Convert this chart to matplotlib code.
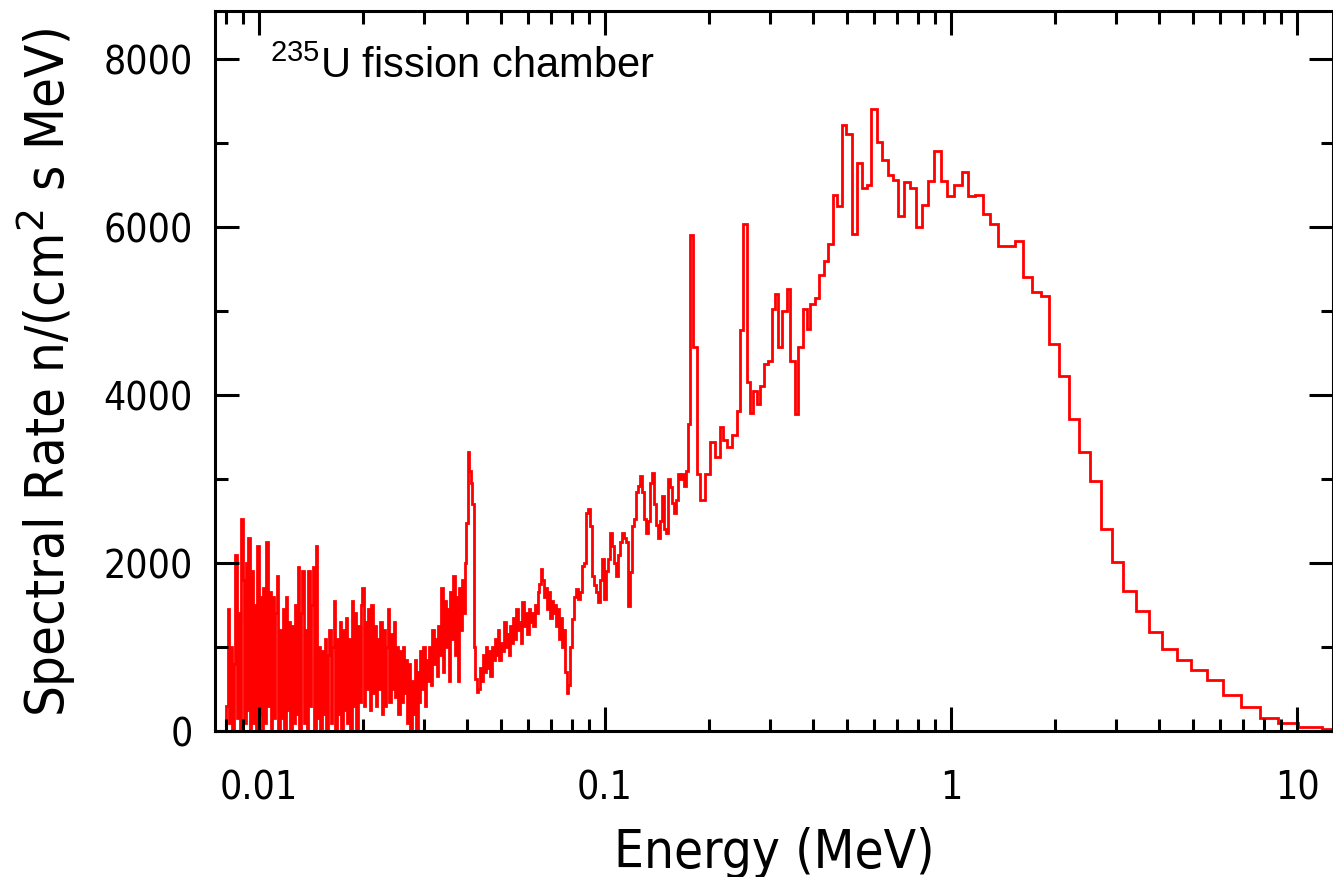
import numpy as np
import matplotlib
matplotlib.use('Agg')
import matplotlib.pyplot as plt
from matplotlib.ticker import FixedLocator, LogLocator, MultipleLocator, NullFormatter

# fine binned part: (E_low, E_high) in MeV, log-uniform bins inside each piece
noisy_range = (0.008029, 0.02787)
noisy_rate = [300, 1450, 100, 1000, 0, 800, 2100, 150, 1400, 0,
              2520, 1800, 100, 2000, 250, 2300, 0, 1900, 100, 1500,
              0, 2200, 200, 1600, 0, 1700, 100, 2250, 300, 1650,
              0, 1600, 150, 1400, 1850, 0, 1200, 150, 1450, 0,
              1600, 250, 1300, 0, 1250, 100, 1500, 200, 1950, 0,
              1400, 1900, 100, 1200, 0, 1900, 300, 1500, 1950, 0,
              2200, 150, 1000, 0, 950, 200, 1100, 0, 900, 1200,
              100, 1000, 1550, 0, 1100, 200, 1300, 0, 1200, 250,
              1350, 100, 1100, 0, 1550, 300, 1400, 0, 1250, 350,
              1500, 1700, 300, 1300, 500, 1450, 250, 1500, 450, 1250,
              300, 1100, 500, 1300, 200, 1200, 300, 1000, 1450, 350,
              1150, 500, 1300, 400, 1000, 200, 950, 350, 1000, 450,
              850, 100, 800, 0, 600]

low_range = (0.02787, 0.03939)
low_rate = [200, 850, 0, 700, 350, 950, 500, 1000, 300, 850,
            600, 1000, 550, 1200, 800, 1100, 650, 1250, 900, 1700,
            700, 1550, 1000, 1450, 600, 1650, 1100, 1850, 900, 1600,
            600, 1700, 1200, 1800, 1400]

peak40_range = (0.03939, 0.04294)
peak40_rate = [2000, 2480, 3320, 3100, 2950, 2700, 1000, 620, 460]

mid_range = (0.04294, 0.07920)
mid_rate = [500, 750, 600, 900, 700, 1000, 750, 950, 650, 1000,
            850, 1100, 900, 1200, 850, 1050, 950, 1300, 1000, 1150,
            900, 1250, 1050, 1350, 1100, 1450, 1200, 1300, 1050, 1530,
            1250, 1400, 1150, 1450, 1300, 1400, 1250, 1500, 1400, 1650,
            1750, 1930, 1800, 1600, 1700, 1450, 1650, 1350, 1550, 1400,
            1500, 1250, 1450, 1100, 1350, 1000, 1200, 700, 450, 550]

upper_range = (0.07920, 0.1761)
upper_rate = [1000, 1333, 1600, 1690, 1570, 1650, 1970, 2000, 2600, 2640,
              2440, 1850, 1740, 1650, 1530, 1800, 2050, 1570, 1900, 2050,
              2360, 2200, 2000, 1850, 2100, 2250, 2360, 2300, 2250, 1490,
              1890, 2440, 2520, 2840, 2920, 3040, 2840, 2520, 2360, 2500,
              2950, 3070, 2700, 2450, 2300, 2500, 2800, 2400, 2360, 3000,
              2900, 2720, 2600, 2750, 3060, 3000, 3060, 2920, 3100, 3650]

# coarse part: explicit bin edges (MeV)
coarse_edges = [0.1761, 0.1796, 0.1845, 0.1882, 0.1945, 0.2011, 0.2079, 0.2150, 0.2193, 0.2253,
                0.2329, 0.2407, 0.2456, 0.2505, 0.2573, 0.2625, 0.2678, 0.2750, 0.2805, 0.2880,
                0.2958, 0.3038, 0.3099, 0.3162, 0.3248, 0.3357, 0.3425, 0.3540, 0.3612, 0.3735,
                0.3835, 0.3913, 0.4045, 0.4154, 0.4294, 0.4410, 0.4560, 0.4683, 0.4842, 0.4972,
                0.5175, 0.5350, 0.5532, 0.5718, 0.5873, 0.6111, 0.6318, 0.6575, 0.6798, 0.7027,
                0.7314, 0.7611, 0.7920, 0.8244, 0.8579, 0.8930, 0.9357, 0.9737, 1.020, 1.076,
                1.120, 1.173, 1.237, 1.296, 1.367, 1.451, 1.531, 1.615, 1.714, 1.820,
                1.920, 2.051, 2.193, 2.344, 2.522, 2.714, 2.920, 3.142, 3.425, 3.735,
                4.072, 4.500, 4.938, 5.495, 6.111, 6.890, 7.820, 8.814, 10.07, 11.81, 13.76]
coarse_rate = [5900, 4570, 3060, 2750, 3060, 3440, 3260, 3620, 3460, 3380,
               3520, 3810, 4770, 6040, 4150, 3790, 4050, 3890, 4110, 4370,
               4410, 5025, 5200, 4570, 5005, 5260, 4410, 3770, 4570, 5025,
               4790, 5080, 5160, 5430, 5590, 5800, 6385, 6250, 7215, 7107,
               5915, 6758, 6470, 6500, 7405, 7008, 6800, 6620, 6560, 6125,
               6530, 6470, 6000, 6260, 6550, 6910, 6550, 6370, 6500, 6650,
               6364, 6386, 6159, 6032, 5773, 5773, 5832, 5400, 5227, 5173,
               4605, 4227, 3718, 3318, 2977, 2409, 2014, 1668, 1432, 1182,
               977, 850, 727, 605, 432, 286, 159, 91, 45, 23]

pieces = [(noisy_range, noisy_rate), (low_range, low_rate), (peak40_range, peak40_rate),
          (mid_range, mid_rate), (upper_range, upper_rate)]

edges = []
rates = []
for (lo, hi), vals in pieces:
    e = np.geomspace(lo, hi, len(vals) + 1)
    edges.extend(e[:-1])
    rates.extend(vals)
edges.extend(coarse_edges)
rates.extend(coarse_rate)

fig = plt.figure(figsize=(13.33, 8.78), dpi=100)
ax = fig.add_axes([0.1613, 0.1663, 0.8387, 0.82])

ax.stairs(rates, edges, color='#ff0000', lw=2.0)

ax.set_xscale('log')
ax.set_xlim(0.00746, 12.7)
ax.set_ylim(0, 8571)

ax.xaxis.set_major_locator(FixedLocator([0.01, 0.1, 1, 10]))
ax.set_xticklabels(['0.01', '0.1', '1', '10'])
ax.xaxis.set_minor_locator(LogLocator(base=10, subs=np.arange(2, 10), numticks=20))
ax.xaxis.set_minor_formatter(NullFormatter())
ax.yaxis.set_major_locator(MultipleLocator(2000))
ax.yaxis.set_minor_locator(MultipleLocator(1000))

tick_font = matplotlib.font_manager.FontProperties(family='DejaVu Sans', stretch='condensed', size=28)
for lab in ax.get_xticklabels() + ax.get_yticklabels():
    lab.set_fontproperties(tick_font)

ax.tick_params(which='both', direction='in', top=True, right=True, width=2.2, color='black')
ax.tick_params(which='major', length=17)
ax.tick_params(which='minor', length=9)
ax.tick_params(axis='x', pad=27)
ax.tick_params(axis='y', pad=16)
for s in ax.spines.values():
    s.set_linewidth(2.2)

ax.set_xlabel('Energy (MeV)', fontsize=38, family='DejaVu Sans', stretch='condensed', labelpad=14)
ax.set_ylabel('Spectral Rate n/(cm$^2$ s MeV)', fontsize=39, family='DejaVu Sans',
              stretch='condensed', labelpad=18)

ax.text(0.049, 0.908, r'$\mathregular{^{235}}$U fission chamber', transform=ax.transAxes,
        fontsize=30, family='Liberation Sans', va='baseline', ha='left')

fig.savefig('out.png', dpi=100)
